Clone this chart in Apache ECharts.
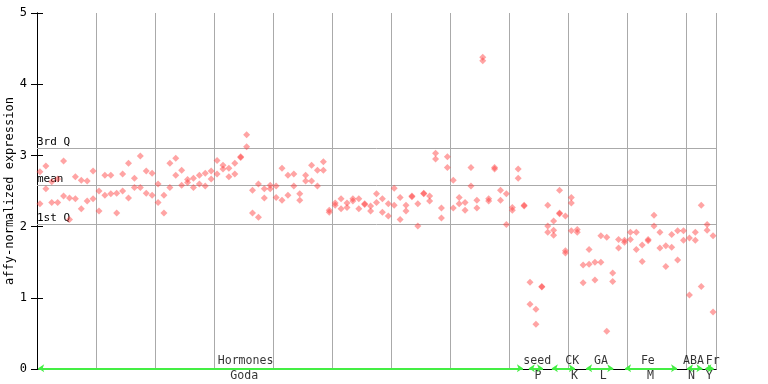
<!DOCTYPE html>
<html><head><meta charset="utf-8">
<script src="https://cdn.jsdelivr.net/npm/echarts@6/dist/echarts.min.js"></script>
<style>html,body{margin:0;padding:0;background:#fff}#c{width:768px;height:384px}</style>
</head><body><div id="c"></div>
<script>
// expression values per sample (index 0..114), replicates
const sampleValues = [
 [2.77,2.32],[2.85,2.53],[2.63,2.34],[2.67,2.34],[2.92,2.43],[2.40,2.10],[2.70,2.39],[2.65,2.25],[2.64,2.36],[2.78,2.39],
 [2.50,2.22],[2.72,2.44],[2.72,2.46],[2.47,2.19],[2.74,2.50],[2.89,2.40],[2.68,2.55],[2.99,2.55],[2.78,2.47],[2.75,2.44],
 [2.60,2.34],[2.44,2.19],[2.89,2.55],[2.96,2.72],[2.79,2.58],[2.66,2.62],[2.68,2.55],[2.72,2.60],[2.75,2.57],[2.78,2.67],
 [2.93,2.74],[2.86,2.81],[2.82,2.70],[2.89,2.74],[2.98,2.97],[3.29,3.12],[2.51,2.19],[2.60,2.13],[2.53,2.40],[2.58,2.53],
 [2.57,2.41],[2.82,2.37],[2.72,2.44],[2.74,2.57],[2.46,2.37],[2.72,2.64],[2.86,2.64],[2.79,2.57],[2.91,2.79],[2.23,2.20],
 [2.33,2.30],[2.39,2.25],[2.33,2.27],[2.39,2.36],[2.39,2.25],[2.32,2.31],[2.29,2.22],[2.46,2.34],[2.39,2.20],[2.32,2.15],
 [2.54,2.30],[2.41,2.10],[2.30,2.22],[2.43,2.42],[2.32,2.01],[2.47,2.46],[2.43,2.36],[3.03,2.95],[2.26,2.12],[2.98,2.83],
 [2.65,2.26],[2.41,2.32],[2.34,2.23],[2.83,2.57],[2.37,2.26],[4.38,4.33],[2.39,2.36],[2.83,2.81],[2.51,2.37],[2.46,2.03],
 [2.27,2.23],[2.81,2.68],[2.30,2.29],[1.22,0.91],[0.84,0.63],[1.16,1.15],[2.30,2.01,1.92],[2.08,1.95,1.88],[2.51,2.19,2.18],[2.15,1.66,1.63],
 [2.41,2.33,1.94],[1.96,1.92],[1.46,1.21],[1.68,1.47],[1.50,1.25],[1.87,1.50],[1.85,0.53],[1.35,1.23],[1.82,1.70],[1.81,1.78],
 [1.92,1.82],[1.92,1.68],[1.74,1.51],[1.82,1.80],[2.16,2.01],[1.92,1.70],[1.73,1.44],[1.89,1.71],[1.94,1.53],[1.94,1.81],
 [1.84,1.04],[1.92,1.81],[2.30,1.16],[2.03,1.95],[1.87,0.80]
];
const quartileNames = ['3rd Q','mean','1st Q'];
const quartileValues = [3.10, 2.58, 2.03];
const groupNames = ['Hormones','seed','CK','GA','Fe','ABA','Fr'];
const subNames = ['Goda','P','K','L','M','N','Y'];
const groupStart = [0.2, 83.3, 87.2, 93.0, 99.6, 110.1, 113.2];
const groupEnd = [82.3, 85.7, 91.1, 97.6, 108.4, 112.7, 114.6];
const groupLabelX = [35.33, 84.74, 90.67, 95.53, 103.46, 111.19, 114.45];
const subLabelX = [35.09, 84.86, 91.04, 95.92, 103.91, 110.86, 113.87];
const yTicks = [0,1,2,3,4,5];

const pts = [];
sampleValues.forEach((vals, i) => vals.forEach(v => pts.push([i + 0.5, v])));
const mono = 'DejaVu Sans Mono';
const black = {show: true, lineStyle: {color: '#000', width: 1}};

const chart = echarts.init(document.getElementById('c'));
chart.setOption({
  animation: false,
  grid: {left: 37, right: 52, top: 13, bottom: 15, show: false, containLabel: false, outerBoundsMode: 'none'},
  xAxis: [
    {type: 'value', min: 0, max: 115, interval: 10, position: 'bottom',
     axisLine: black, axisTick: {show: false}, axisLabel: {show: false},
     splitLine: {show: true, lineStyle: {color: '#aaaaaa', width: 1}}},
    {type: 'value', min: 0, max: 115, interval: 10, position: 'top',
     axisLine: black, axisTick: {show: false}, axisLabel: {show: false}, splitLine: {show: false}}
  ],
  yAxis: [
    {type: 'value', min: yTicks[0], max: yTicks[yTicks.length-1], interval: 1,
     name: 'affy-normalized expression', nameLocation: 'middle', nameGap: 21, nameMoveOverlap: false,
     nameTextStyle: {fontFamily: mono, fontSize: 12, color: '#000'},
     axisLine: black,
     axisTick: {show: true, inside: true, length: 6, lineStyle: {color: '#000'}},
     axisLabel: {fontFamily: mono, fontSize: 12, color: '#000', margin: 10},
     splitLine: {show: false}},
    {type: 'value', min: 0, max: 5, interval: 1, position: 'right',
     axisLine: black,
     axisTick: {show: true, inside: true, length: 6, lineStyle: {color: '#000'}},
     axisLabel: {show: false}, splitLine: {show: false}}
  ],
  series: [
    {type: 'scatter', data: pts, symbol: 'diamond', symbolSize: 7,
     itemStyle: {color: 'rgba(255,64,64,0.6)'}, z: 5,
     markLine: {silent: true, symbol: 'none',
       lineStyle: {color: '#aaaaaa', width: 1, type: 'solid'},
       label: {show: true, position: 'insideStartTop', distance: 1, offset: [-1, 0], fontFamily: mono, fontSize: 11, color: '#000',
         formatter: p => p.name},
       data: quartileNames.map((n, k) => ({name: n, yAxis: quartileValues[k]}))}},
    {type: 'scatter', data: [], silent: true,
     markLine: {silent: true, symbol: ['arrow','arrow'], symbolSize: 6,
       lineStyle: {color: '#44ee44', width: 2, type: 'solid'}, label: {show: false},
       data: groupStart.map((s, k) => [{coord: [s, 0.01]}, {coord: [groupEnd[k], 0.01]}])}},
    {type: 'scatter', symbolSize: 0, silent: true,
     data: groupNames.map((n, k) => ({name: n, value: [groupLabelX[k], 0]})),
     label: {show: true, position: 'top', distance: 2, formatter: p => p.name,
       fontFamily: mono, fontSize: 11.6, color: '#000'}},
    {type: 'scatter', symbolSize: 0, silent: true,
     data: subNames.map((n, k) => ({name: n, value: [subLabelX[k], 0]})),
     label: {show: true, position: 'bottom', distance: 1, formatter: p => p.name,
       fontFamily: mono, fontSize: 11.6, color: '#000'}}
  ]
});
</script></body></html>
